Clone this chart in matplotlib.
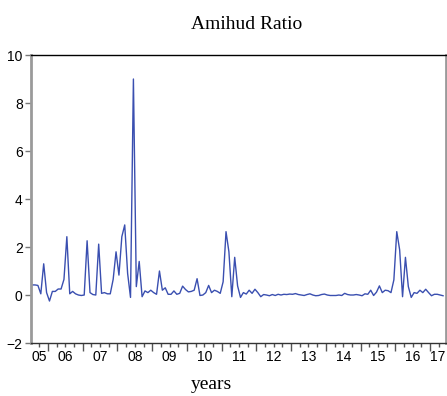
import numpy as np
import matplotlib
matplotlib.use("Agg")
import matplotlib.pyplot as plt
from matplotlib.ticker import MultipleLocator

# monthly Amihud ratio, Jul 2005 - May 2017
amihud = [
    0.42, 0.42, 0.40, 0.05, 1.30, 0.10, -0.25, 0.15, 0.15, 0.25,
    0.25, 0.65, 2.43, 0.05, 0.15, 0.05, 0.00, -0.02, 0.00, 2.26,
    0.10, 0.02, 0.00, 2.12, 0.07, 0.10, 0.05, 0.05, 0.65, 1.80,
    0.83, 2.43, 2.92, 0.90, -0.10, 9.00, 0.35, 1.40, -0.07, 0.17,
    0.10, 0.20, 0.10, 0.03, 1.00, 0.20, 0.30, 0.03, 0.03, 0.17,
    0.03, 0.07, 0.37, 0.23, 0.13, 0.15, 0.20, 0.68, -0.02, 0.00,
    0.10, 0.40, 0.10, 0.20, 0.15, 0.07, 0.55, 2.64, 1.80, -0.07,
    1.57, 0.38, -0.10, 0.10, 0.04, 0.20, 0.07, 0.24, 0.10, -0.07,
    0.02, 0.00, -0.03, 0.02, -0.02, 0.03, 0.00, 0.03, 0.02, 0.04,
    0.03, 0.06, 0.02, 0.00, -0.02, 0.02, 0.05, 0.00, -0.03, -0.02,
    0.02, 0.04, 0.00, -0.02, -0.02, -0.02, 0.00, -0.02, 0.07, 0.02,
    0.00, 0.00, 0.02, 0.00, -0.03, 0.05, 0.03, 0.20, -0.02, 0.12,
    0.38, 0.10, 0.20, 0.18, 0.10, 0.63, 2.64, 1.88, -0.07, 1.57,
    0.35, -0.10, 0.10, 0.07, 0.20, 0.10, 0.24, 0.10, -0.03, 0.03,
    0.03, 0.00, -0.03,
]
start_year = 2005
start_month = 7
year_labels = ["05", "06", "07", "08", "09", "10", "11", "12",
               "13", "14", "15", "16", "17"]

# x as fractional year, mid-month
t = start_year + (start_month - 1 + np.arange(len(amihud)) + 0.5) / 12.0

fig = plt.figure(figsize=(4.47, 3.96), dpi=100)
ax = fig.add_axes([0.0694, 0.1338, 0.9284, 0.7273])

ax.plot(t, amihud, color="#3a4fb0", lw=1.0)

x0, x1 = 2005.51, 2017.46
ax.set_xlim(x0, x1)
ax.set_ylim(-2, 10)

# frame like EViews
ax.spines["top"].set_color("black")
ax.spines["top"].set_linewidth(1.0)
ax.spines["bottom"].set_color("#333333")
ax.spines["bottom"].set_linewidth(1.0)
for s in ["left", "right"]:
    ax.spines[s].set_color("#9a9a9a")
    ax.spines[s].set_linewidth(2.0)

ax.yaxis.set_major_locator(MultipleLocator(2))
ax.tick_params(axis="y", direction="out", length=4, width=1, color="#777777",
               labelsize=10, pad=2)
for lab in ax.get_yticklabels():
    lab.set_fontfamily("Liberation Sans")

ax.set_xticks(np.arange(2006, 2018))
ax.set_xticks(np.arange(2005.75, 2017.5, 0.25), minor=True)
ax.set_xticklabels([])
ax.tick_params(axis="x", which="major", direction="out", length=6, width=1,
               color="#555555")
ax.tick_params(axis="x", which="minor", direction="out", length=3, width=1,
               color="#555555")

# year labels centred in each (visible) year
trans = ax.get_xaxis_transform()
for i, lab in enumerate(year_labels):
    yr = start_year + i
    lo = max(yr, x0)
    hi = min(yr + 1, x1)
    ax.text((lo + hi) / 2, -0.049, lab, transform=trans, ha="center",
            va="center", fontsize=10, family="Liberation Sans")

fig.text(0.551, 0.937, "Amihud Ratio", ha="center", va="center",
         fontsize=14, family="Liberation Serif")
fig.text(0.474, 0.030, "years", ha="center", va="center",
         fontsize=14, family="Liberation Serif")

fig.savefig("out.png", dpi=100)
